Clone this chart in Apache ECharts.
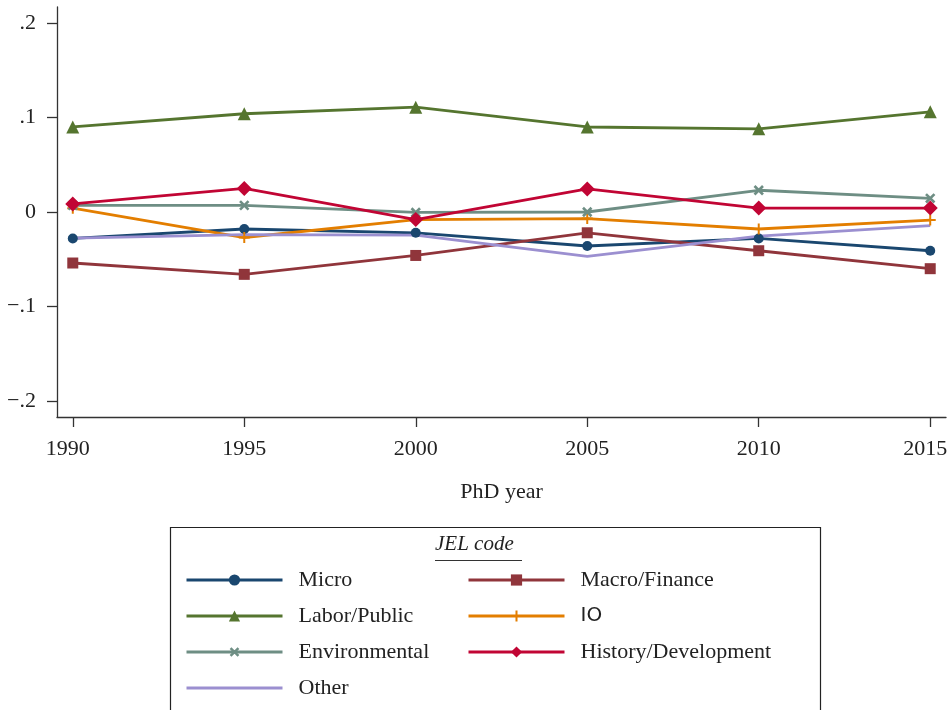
<!DOCTYPE html>
<html>
<head>
<meta charset="utf-8">
<script src="https://cdn.jsdelivr.net/npm/echarts@6/dist/echarts.min.js"></script>
<style>html,body{margin:0;padding:0;background:#fff;overflow:hidden;}#c{width:950px;height:710px;}</style>
</head>
<body>
<div id="c"></div>
<script>
const years = [1990, 1995, 2000, 2005, 2010, 2015];
const yTicks = [-0.2, -0.1, 0, 0.1, 0.2];
const yTickLabels = ['\u2212.2', '\u2212.1', '0', '.1', '.2'];
const micro = [-0.028, -0.018, -0.022, -0.036, -0.028, -0.041];
const macro = [-0.054, -0.066, -0.046, -0.022, -0.041, -0.060];
const labor = [0.090, 0.104, 0.111, 0.090, 0.088, 0.106];
const io = [0.004, -0.027, -0.008, -0.007, -0.018, -0.0085];
const environmental = [0.007, 0.007, -0.0005, 0.0, 0.023, 0.0145];
const history = [0.0085, 0.025, -0.008, 0.0244, 0.0042, 0.0042];
const other = [-0.0276, -0.024, -0.0244, -0.047, -0.0255, -0.0145];

const serif = "'Liberation Serif','DejaVu Serif',serif";
const plusPath = 'path://M4.1,0H5.9V10H4.1ZM0,4.1H10V5.9H0Z';
const crossPath = 'path://M3.9,0H6.1V10H3.9ZM0,3.9H10V6.1H0Z';

function mk(name, data, color, symbol, size, rotate) {
  return {
    name: name, type: 'line',
    data: years.map((y, i) => [y, data[i]]),
    symbol: symbol, symbolSize: size, symbolRotate: rotate || 0,
    showSymbol: size > 0,
    lineStyle: {color: color, width: 2.8},
    itemStyle: {color: color, borderWidth: 0},
    emphasis: {disabled: true},
    animation: false, clip: false, z: 2
  };
}

const series = [
  mk('Micro', micro, '#1a476f', 'circle', 10),
  mk('Macro/Finance', macro, '#90353b', 'rect', 11),
  mk('Labor/Public', labor, '#55752f', 'triangle', 13),
  mk('IO', io, '#e37e00', plusPath, 11),
  mk('Environmental', environmental, '#6e8e84', crossPath, 12, 45),
  mk('History/Development', history, '#c10534', 'diamond', 15),
  mk('Other', other, '#9b8fd0', 'circle', 0)
];

const legendText = {
  fontFamily: serif, fontSize: 22, color: '#222', lineHeight: 22, padding: [0, 0, 0, 11],
  rich: {s: {fontFamily: "'DejaVu Sans',sans-serif", fontSize: 20, lineHeight: 22, color: '#222'}}
};
const legendFmt = n => n === 'IO' ? '{s|IO}' : n;
const legendCommon = {
  orient: 'vertical', top: 569, padding: 0,
  itemWidth: 96, itemHeight: 14, itemGap: 14,
  lineStyle: {width: 3},
  textStyle: legendText, formatter: legendFmt, selectedMode: false
};

const chart = echarts.init(document.getElementById('c'), null, {renderer: 'canvas'});
chart.setOption({
  backgroundColor: '#fff',
  animation: false,
  grid: {left: 57, right: 4, top: 7, bottom: 293, containLabel: false, outerBoundsMode: 'none'},
  xAxis: {
    type: 'value', min: 1989.54, max: 2015.46,
    name: 'PhD year', nameLocation: 'middle', nameGap: 64,
    nameTextStyle: {fontFamily: serif, fontSize: 22, color: '#222'},
    axisLine: {show: true, onZero: false, lineStyle: {color: '#333', width: 1.3}},
    axisTick: {show: true, length: 10, customValues: years, lineStyle: {color: '#333', width: 1.3}},
    axisLabel: {customValues: years, margin: 21, fontFamily: serif, fontSize: 22, color: '#222',
      formatter: v => (v === years[0] || v === years[years.length - 1]) ? '{e|' + v + '}' : String(v),
      rich: {e: {fontFamily: serif, fontSize: 22, color: '#222', padding: [0, 10, 0, 0]}}},
    splitLine: {show: false}
  },
  yAxis: {
    type: 'value', min: -0.217, max: 0.217,
    axisLine: {show: true, onZero: false, lineStyle: {color: '#333', width: 1.3}},
    axisTick: {show: true, length: 10, customValues: yTicks, lineStyle: {color: '#333', width: 1.3}},
    axisLabel: {customValues: yTicks, margin: 21, fontFamily: serif, fontSize: 22, color: '#222',
      formatter: v => { const i = yTicks.findIndex(t => Math.abs(t - v) < 1e-9); return i >= 0 ? yTickLabels[i] : ''; }},
    splitLine: {show: false}
  },
  legend: [
    Object.assign({data: ['Micro', 'Labor/Public', 'Environmental', {name: 'Other', itemStyle: {opacity: 0}}], left: 185}, legendCommon),
    Object.assign({data: ['Macro/Finance', 'IO', 'History/Development'], left: 467}, legendCommon)
  ],
  graphic: [
    {type: 'rect', shape: {x: 170.5, y: 527.5, width: 650, height: 200}, style: {fill: 'none', stroke: '#222', lineWidth: 1.2}, silent: true},
    {type: 'text', x: 435, y: 544, style: {text: 'JEL code', fontFamily: serif, fontStyle: 'italic', fontSize: 21, fill: '#222', verticalAlign: 'middle', textAlign: 'left'}, silent: true},
    {type: 'line', shape: {x1: 435, y1: 560.5, x2: 522, y2: 560.5}, style: {stroke: '#333', lineWidth: 1.2}, silent: true}
  ],
  series: series
});
</script>
</body>
</html>
